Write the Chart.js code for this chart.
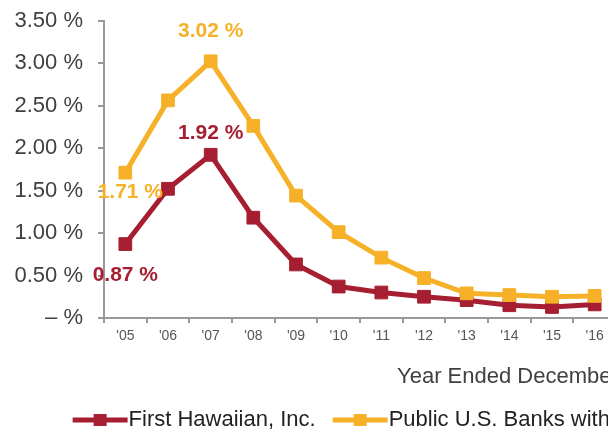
<!DOCTYPE html>
<html lang="en">
<head>
  <meta charset="UTF-8">
  <title>First Hawaiian vs Public U.S. Banks</title>
  <script src="https://cdn.jsdelivr.net/npm/chart.js@4/dist/chart.umd.min.js"></script>
  <style>
    html, body { margin: 0; padding: 0; overflow: hidden; background: #fff; }
  </style>
</head>
<body>
<canvas id="myChart" width="859" height="432"></canvas>

<script>
    const years = ["'05", "'06", "'07", "'08", "'09", "'10", "'11", "'12", "'13", "'14", "'15", "'16"];
    const firstHawaiian = [0.87, 1.52, 1.92, 1.18, 0.63, 0.37, 0.30, 0.25, 0.21, 0.15, 0.13, 0.16];
    const publicBanks = [1.71, 2.56, 3.02, 2.26, 1.44, 1.01, 0.71, 0.47, 0.29, 0.27, 0.25, 0.26];
    const seriesNames = ['First Hawaiian, Inc.', 'Public U.S. Banks with Assets $10-$50bn'];
    const xTitle = 'Year Ended December 31,';

    const RED = '#A61E31';
    const GOLD = '#F6B128';
    const FONT = "'Liberation Sans', Arial, sans-serif";
    const CANVAS_W = 859;

    // legend marker: short thick line with a square in the middle
    function legendMarker(color) {
        const c = document.createElement('canvas');
        c.width = 74; c.height = 16;
        const g = c.getContext('2d');
        g.fillStyle = color;
        g.fillRect(18, 5.5, 55, 5);
        g.fillRect(39, 2, 13, 12);
        return c;
    }

    // value labels next to a few points
    const pointLabels = {
        id: 'pointLabels',
        afterDatasetsDraw: (chart, args, opts) => {
            const ctx = chart.ctx;
            ctx.save();
            ctx.font = 'bold 21px ' + FONT;
            ctx.textAlign = 'center';
            ctx.textBaseline = 'middle';
            opts.items.forEach(it => {
                const ds = chart.data.datasets[it.ds];
                const pt = chart.getDatasetMeta(it.ds).data[it.i];
                ctx.fillStyle = ds.borderColor;
                ctx.fillText(ds.data[it.i].toFixed(2) + ' %', pt.x + it.dx, pt.y + it.dy);
            });
            ctx.restore();
        }
    };

    // axis title sits off to the right under the x axis
    const axisTitle = {
        id: 'axisTitle',
        afterDraw: (chart, args, opts) => {
            const ctx = chart.ctx;
            const a = chart.chartArea;
            ctx.save();
            ctx.font = '22px ' + FONT;
            ctx.fillStyle = '#404040';
            ctx.textAlign = 'left';
            ctx.textBaseline = 'middle';
            ctx.fillText(opts.text, a.left + 293, a.bottom + 59);
            ctx.restore();
        }
    };

    const ctx = document.getElementById('myChart');
    const myChart = new Chart(ctx, {
        type: 'line',
        data: {
            labels: years,
            datasets: [{
                label: seriesNames[0],
                data: firstHawaiian,
                borderColor: RED,
                backgroundColor: RED,
                borderWidth: 5,
                pointStyle: 'rect',
                pointRadius: 9,
                pointBorderWidth: 1,
                tension: 0,
                order: 1
            }, {
                label: seriesNames[1],
                data: publicBanks,
                borderColor: GOLD,
                backgroundColor: GOLD,
                borderWidth: 5,
                pointStyle: 'rect',
                pointRadius: 9,
                pointBorderWidth: 1,
                tension: 0,
                order: 0
            }]
        },
        options: {
            responsive: false,
            animation: false,
            layout: { padding: { top: 0, bottom: -9, left: 0, right: 0 } },
            scales: {
                x: {
                    offset: true,
                    grid: { display: true, drawOnChartArea: false, offset: true, tickLength: 5, color: '#999', lineWidth: 2 },
                    border: { display: true, color: '#999', width: 2 },
                    ticks: { color: '#555', padding: 5, font: { family: FONT, size: 14 } },
                    afterFit: (s) => { s.height = 81; }
                },
                y: {
                    min: 0,
                    max: 3.5,
                    grid: { display: true, drawOnChartArea: false, tickLength: 6, color: '#999', lineWidth: 2 },
                    border: { display: true, color: '#999', width: 2 },
                    ticks: {
                        stepSize: 0.5,
                        padding: 15,
                        color: '#404040',
                        font: { family: FONT, size: 22, lineHeight: 0.5 },
                        callback: (v) => v === 0 ? '\u2013 %' : v.toFixed(2) + ' %'
                    },
                    afterFit: (s) => { s.width = 104; }
                },
                pad: {
                    position: 'right',
                    display: true,
                    grid: { display: false },
                    border: { display: false },
                    ticks: { display: false },
                    afterFit: (s) => { s.width = CANVAS_W - 616; }
                }
            },
            plugins: {
                legend: {
                    position: 'bottom',
                    labels: {
                        usePointStyle: true,
                        pointStyleWidth: 52,
                        padding: 10,
                        color: '#222',
                        font: { family: FONT, size: 22 },
                        sort: (a, b) => a.datasetIndex - b.datasetIndex,
                        generateLabels: (chart) => {
                            const items = Chart.defaults.plugins.legend.labels.generateLabels(chart);
                            items.forEach(it => {
                                it.pointStyle = legendMarker(chart.data.datasets[it.datasetIndex].borderColor);
                            });
                            return items;
                        }
                    }
                },
                tooltip: { enabled: false },
                pointLabels: {
                    items: [
                        { ds: 0, i: 0, dx: 0, dy: 31 },
                        { ds: 0, i: 2, dx: 0, dy: -22 },
                        { ds: 1, i: 0, dx: 5, dy: 20 },
                        { ds: 1, i: 2, dx: 0, dy: -30 }
                    ]
                },
                axisTitle: { text: xTitle }
            }
        },
        plugins: [pointLabels, axisTitle]
    });
</script>
</body>
</html>
